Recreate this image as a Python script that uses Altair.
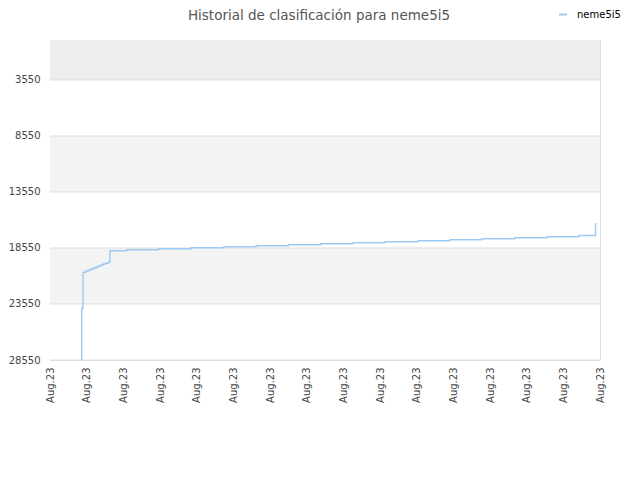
import altair as alt
import pandas as pd

# ---- data ----
series_name = "neme5i5"
# x position in units of the x tick interval (0 .. 15)
x_pos = [0.862, 0.865, 0.900, 0.974, 1.045, 1.110, 1.181, 1.255, 1.317, 1.391,
         1.454, 1.527, 1.600, 1.636, 2.092, 2.965, 3.837, 4.745, 5.618, 6.499,
         7.383, 8.255, 9.136, 10.036, 10.909, 11.782, 12.682, 13.555, 14.427,
         14.877, 14.905]
rank = [28550, 23907, 20720, 20604, 20514, 20425, 20336, 20247, 20157, 20068,
        19979, 19889, 19800, 18791, 18702, 18613, 18523, 18434, 18345, 18256,
        18166, 18077, 17988, 17898, 17809, 17720, 17630, 17541, 17434,
        16407, 16407]

y_ticks = [3550, 8550, 13550, 18550, 23550, 28550]
x_ticks = list(range(16))
x_label = "Aug.23"

band_start = [-21, 3550, 8550, 13550, 18550, 23550]
band_end = [3550, 8550, 13550, 18550, 23550, 28550]
band_kind = ["top", "plain", "shade", "plain", "shade", "plain"]

line_df = pd.DataFrame({"x": x_pos, "rank": rank, "series": series_name})
band_df = pd.DataFrame({"y0": band_start, "y1": band_end, "kind": band_kind,
                        "x0": x_ticks[0], "x1": x_ticks[-1]})
grid_df = pd.DataFrame({"g": y_ticks})

FONT = "DejaVu Sans"

x_scale = alt.Scale(domain=[x_ticks[0], x_ticks[-1]], nice=False, zero=False)
y_scale = alt.Scale(domain=[band_start[0], band_end[-1]], reverse=True, nice=False, zero=False)

x_axis = alt.Axis(values=x_ticks, labelExpr=f"'{x_label}'", labelAngle=-90,
                  ticks=False, domain=False, grid=False, title=None,
                  labelPadding=7, labelFont=FONT, labelFontSize=10,
                  labelColor="#444", labelOverlap=False)
y_axis = alt.Axis(values=y_ticks, format="d", ticks=False, domain=False,
                  grid=False, title=None,
                  labelPadding=10, labelFont=FONT, labelFontSize=10,
                  labelColor="#444")

bands = alt.Chart(band_df).mark_rect().encode(
    x=alt.X("x0:Q", scale=x_scale, axis=x_axis),
    x2="x1:Q",
    y=alt.Y("y0:Q", scale=y_scale, axis=y_axis),
    y2="y1:Q",
    fill=alt.Fill("kind:N",
                  scale=alt.Scale(domain=["top", "plain", "shade"],
                                  range=["#ededed", "#ffffff", "#f3f3f3"]),
                  legend=None),
)

grid = alt.Chart(grid_df).mark_rule(color="#dddddd", strokeWidth=1).encode(
    y=alt.Y("g:Q", scale=y_scale, axis=y_axis),
)

line = alt.Chart(line_df).mark_line(interpolate="step-after", strokeWidth=1.4, clip=True).encode(
    x=alt.X("x:Q", scale=x_scale, axis=x_axis),
    y=alt.Y("rank:Q", scale=y_scale, axis=y_axis),
    stroke=alt.Stroke("series:N",
                      scale=alt.Scale(domain=[series_name], range=["#9ccaf5"]),
                      legend=alt.Legend(title=None, orient="none", legendX=508, legendY=-30.5,
                                        symbolType="stroke", symbolSize=64,
                                        symbolStrokeWidth=2, labelOffset=9,
                                        labelFont=FONT, labelFontSize=10,
                                        labelColor="#000")),
)

chart = alt.layer(bands, grid, line).properties(
    width=550,
    height=320,
    title=alt.TitleParams("Historial de clasificación para neme5i5",
                          font=FONT, fontSize=13.5, fontWeight="normal",
                          color="#555", anchor="middle", offset=0, dy=12.5, dx=-6),
    autosize=alt.AutoSizeParams(type="none"),
    padding={"left": 42, "top": 32, "right": 32, "bottom": 100},
).configure_view(stroke="#dcdcdc")

chart.save("out.html", embed_options={"renderer": "svg", "actions": False})
